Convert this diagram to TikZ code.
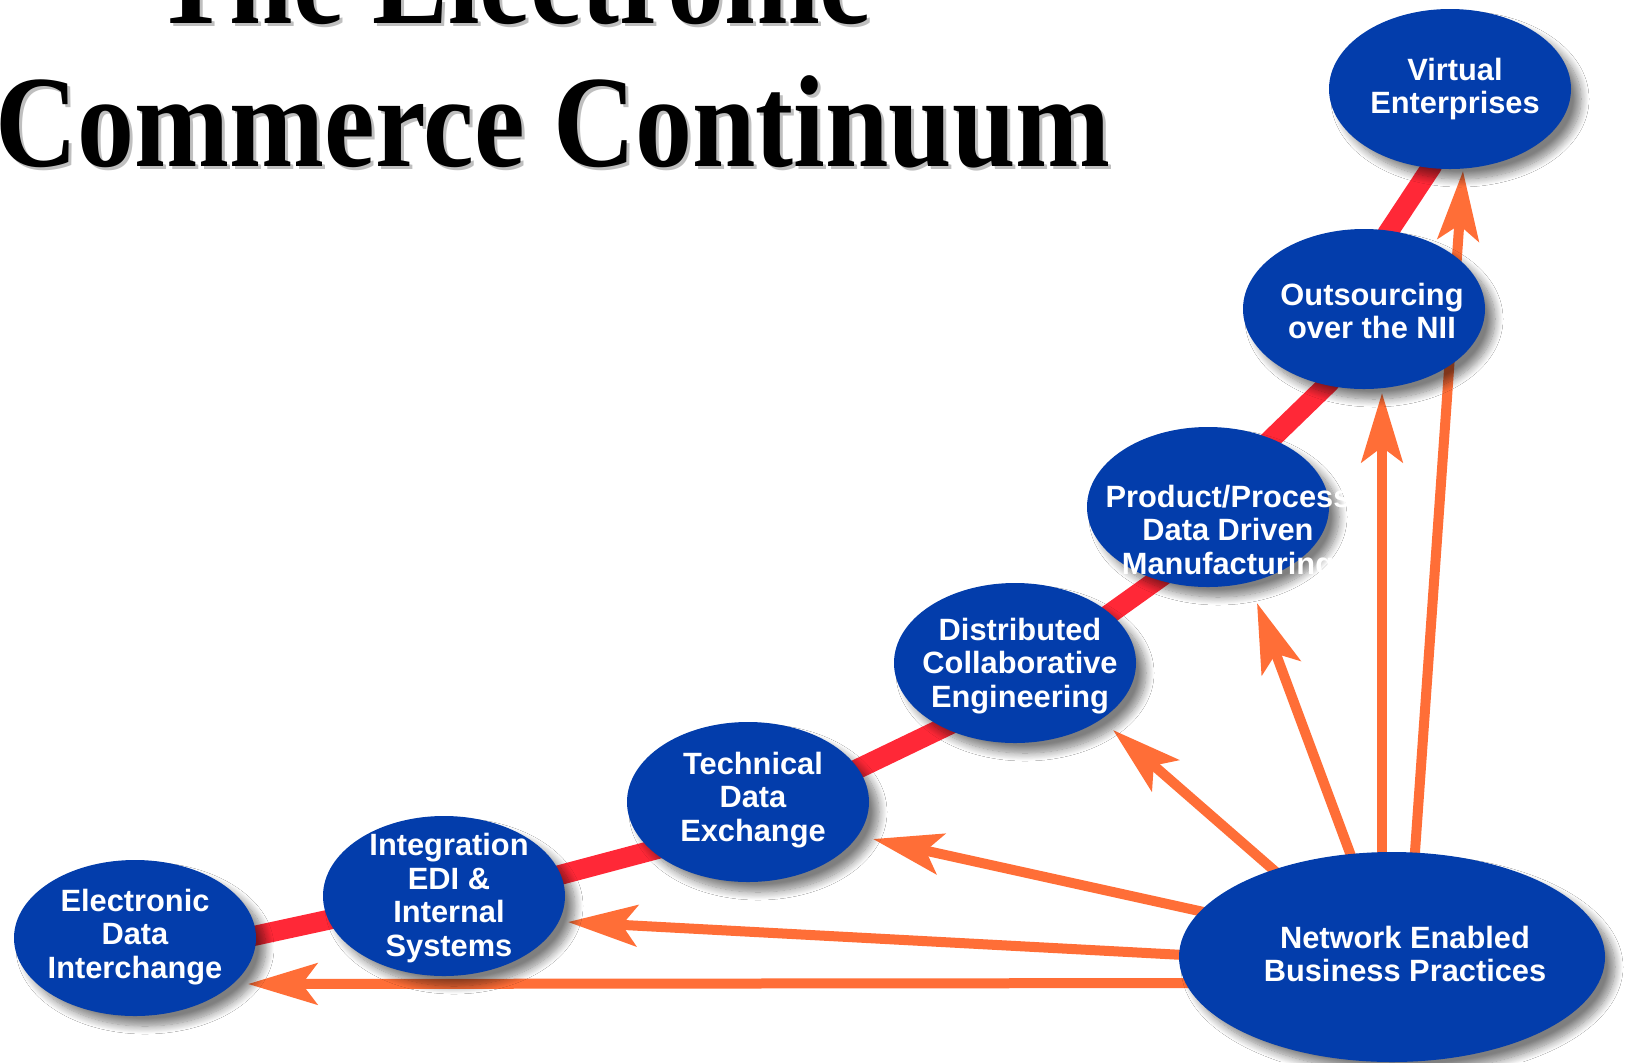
\documentclass[tikz,border=0pt]{standalone}
\usepackage{fontspec}
\setmainfont{Liberation Serif}
\newfontfamily\bubfont{Liberation Sans}
\usetikzlibrary{arrows.meta,shadows.blur,shapes.geometric}
\definecolor{bubblue}{RGB}{3,61,171}
\definecolor{redline}{RGB}{255,40,55}
\definecolor{orangearr}{RGB}{255,110,55}
\begin{document}
\begin{tikzpicture}[x=0.5pt,y=-0.5pt,
  bub/.style={ellipse,fill=bubblue,draw=none,inner sep=0pt,
    blur shadow={shadow xshift=5pt,shadow yshift=-5pt,shadow blur radius=4pt,shadow blur steps=12,shadow opacity=50}},
  txt/.style={text=white,align=center,inner sep=0pt,
    font=\bubfont\bfseries\fontsize{15.4pt}{16.9pt}\selectfont},
  arr/.style={draw=orangearr,line width=5pt,
    -{Stealth[length=34.5pt,width=20.5pt,inset=7.5pt]}},
  titlefont/.style={font=\bfseries\fontsize{65.5pt}{71.5pt}\selectfont,inner sep=0pt,anchor=base}
]
\useasboundingbox (0,0) rectangle (1629,1062);
\fill[white] (0,0) rectangle (1629,1062);

% title
\node[titlefont,text=black!25] (t1s) at (515,26) {\scalebox{0.87}[1]{The Electronic}};
\node[titlefont] (t1) at (512,23) {\scalebox{0.87}[1]{The Electronic}};
\node[titlefont,text=black!25] (t2s) at (556,169) {\scalebox{0.87}[1]{Commerce Continuum}};
\node[titlefont] (t2) at (553,166) {\scalebox{0.87}[1]{Commerce Continuum}};

% red continuum line
\draw[redline,line width=10pt,line join=round]
  (200,945) -- (249,937) -- (332,919) -- (444,893) -- (556,876) -- (665,847)
  -- (750,810) -- (847,774) -- (951,724) -- (1020,672) -- (1101,620) -- (1164,575)
  -- (1210,510) -- (1265,445) -- (1330,382) -- (1362,310) -- (1387,234) -- (1432,166) -- (1445,120);

% orange arrows (tails inside the network ellipse)
\coordinate (tipA) at (248,984);
\coordinate (tipB) at (568,922);
\coordinate (tipC) at (873,839);
\coordinate (tipD) at (1113,730);
\coordinate (tipE) at (1257,603);
\coordinate (tipF) at (1382,393);
\coordinate (tipG) at (1463,171);
\coordinate (tailA) at (1240,983);
\coordinate (tailB) at (1240,958);
\coordinate (tailC) at (1240,920);
\coordinate (tailD) at (1300,893);
\coordinate (tailE) at (1360,880);
\coordinate (tailF) at (1382,880);
\coordinate (tailG) at (1413,880);
\draw[arr] (tailA) -- (tipA);
\draw[arr] (tailB) -- (tipB);
\draw[arr] (tailC) -- (tipC);
\draw[arr] (tailD) -- (tipD);
\draw[arr] (tailE) -- (tipE);
\draw[arr] (tailF) -- (tipF);
\draw[arr] (tailG) -- (tipG);

% ellipses
\node[bub,minimum width=121pt,minimum height=78pt] (edi) at (135,938) {};
\node[bub,minimum width=121pt,minimum height=80pt] (int) at (444,896) {};
\node[bub,minimum width=121pt,minimum height=80pt] (tde) at (748,802) {};
\node[bub,minimum width=121pt,minimum height=80pt] (dce) at (1015,663) {};
\node[bub,minimum width=121pt,minimum height=80pt] (ppd) at (1208,507) {};
\node[bub,minimum width=121pt,minimum height=80pt] (out) at (1364,309) {};
\node[bub,minimum width=121pt,minimum height=80pt] (vir) at (1450,89) {};
\node[bub,minimum width=213pt,minimum height=105pt] (net) at (1392,957) {};

% texts
\node[txt] (edit) at (135,937) {Electronic\\Data\\Interchange};
\node[txt] (intt) at (449,898) {Integration\\EDI \&\\Internal\\Systems};
\node[txt] (tdet) at (753,800) {Technical\\Data\\Exchange};
\node[txt] (dcet) at (1020,666) {Distributed\\Collaborative\\Engineering};
\node[txt] (ppdt) at (1228,533) {Product/Process\\Data Driven\\Manufacturing};
\node[txt] (outt) at (1372,311) {Outsourcing\\over the NII};
\node[txt] (virt) at (1455,89) {Virtual\\Enterprises};
\node[txt] (nett) at (1405,954) {Network Enabled\\Business Practices};
\end{tikzpicture}
\end{document}
